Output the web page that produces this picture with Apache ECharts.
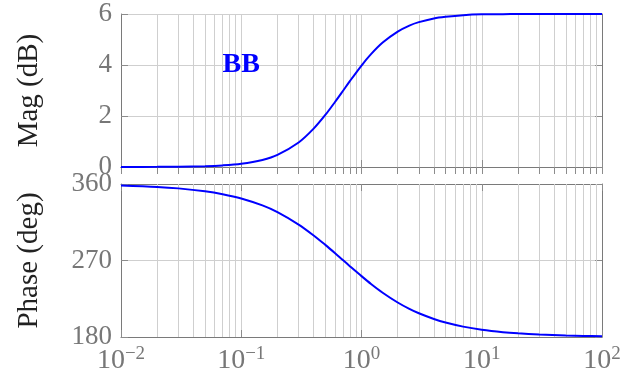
<!DOCTYPE html>
<html>
<head>
<meta charset="utf-8">
<script src="https://cdn.jsdelivr.net/npm/echarts@6/dist/echarts.min.js"></script>
<style>html,body{margin:0;padding:0;background:#fff;}#c{width:635px;height:381px;}</style>
</head>
<body>
<div id="c"></div>
<script>
// ---- data ----
const freq = [0.01,0.02,0.03,0.05,0.07,0.1,0.15,0.2,0.3,0.4,0.5,0.6,0.7,0.8,1,1.2,1.5,2,2.5,3,4,5,7,10,15,20,30,50,70,100];
const magDb = [0.001,0.005,0.012,0.032,0.063,0.127,0.278,0.474,0.961,1.504,2.04,2.54,2.98,3.366,3.98,4.425,4.88,5.31,5.546,5.68,5.825,5.89,5.955,5.988,5.995,5.997,5.999,6.0,6.0,6.0];
const phaseDeg = [358.3,356.6,354.85,351.4,348.0,343.0,334.8,326.9,312.3,299.5,288.4,278.85,270.5,263.35,251.6,242.4,232.1,220.6,213.1,207.9,201.2,197.0,192.2,188.6,185.7,184.3,182.9,181.7,181.2,180.9];
const majorTicksX = [0.01,0.1,1,10,100];
const minorTicksX = [0.02,0.03,0.04,0.05,0.06,0.07,0.08,0.09,0.2,0.3,0.4,0.5,0.6,0.7,0.8,0.9,2,3,4,5,6,7,8,9,20,30,40,50,60,70,80,90];
const magTicks = [0,2,4,6];
const phaseTicks = [180,270,360];
const annotation = {text:'BB', x:0.1, y:4};

// ---- styling ----
const FONT = '"Liberation Serif", "DejaVu Serif", serif';
const FRAME = '#7a7a7a';
const GRID = '#cfcfcf';
const TICK = '#8c8c8c';
const LABEL = '#777777';
const allTicksX = majorTicksX.concat(minorTicksX).sort((a,b)=>a-b);

function xAxes(gridIndex, showLabels){
  return [{
    type:'log', logBase:10, gridIndex, position:'bottom', min:0.01, max:100,
    axisLine:{show:true, lineStyle:{color:FRAME, width:1}},
    axisTick:{show:true, inside:true, length:7, lineStyle:{color:TICK}, customValues: allTicksX},
    axisLabel:{show:showLabels, margin:8, fontFamily:FONT, color:LABEL,
      formatter:function(v){ const e = Math.round(Math.log10(v)); return '{b|10}{s|' + (e<0?'\u2212':'') + Math.abs(e) + '}'; },
      rich:{ b:{fontSize:28, fontFamily:FONT, color:LABEL, lineHeight:30, verticalAlign:'bottom'},
             s:{fontSize:19, fontFamily:FONT, color:LABEL, lineHeight:19, verticalAlign:'top'} }},
    splitLine:{show:true, lineStyle:{color:GRID, width:1}},
    minorTick:{show:false}, minorSplitLine:{show:false}
  },{
    type:'log', logBase:10, gridIndex, position:'top', min:0.01, max:100,
    axisLine:{show:true, lineStyle:{color:FRAME, width:1}},
    axisTick:{show:true, inside:true, length:7, lineStyle:{color:TICK}, customValues: allTicksX},
    axisLabel:{show:false}, splitLine:{show:false}
  }];
}
function yAxes(gridIndex, min, max, interval, name, nameGap){
  return [{
    type:'value', gridIndex, position:'left', min, max, interval,
    name, nameLocation:'middle', nameGap, nameRotate:90,
    nameTextStyle:{fontFamily:FONT, fontSize:29, color:'#222'},
    axisLine:{show:true, lineStyle:{color:FRAME, width:1}},
    axisTick:{show:true, inside:true, length:7, lineStyle:{color:TICK}},
    axisLabel:{show:true, margin:9, fontFamily:FONT, fontSize:27, color:LABEL},
    splitLine:{show:true, lineStyle:{color:GRID, width:1}}
  },{
    type:'value', gridIndex, position:'right', min, max, interval,
    axisLine:{show:true, lineStyle:{color:FRAME, width:1}},
    axisTick:{show:true, inside:true, length:7, lineStyle:{color:TICK}},
    axisLabel:{show:false}, splitLine:{show:false}
  }];
}

const minorGrid = {
  silent:true, symbol:'none', z:1, animation:false,
  label:{show:false}, emphasis:{disabled:true},
  lineStyle:{color:GRID, type:'solid', width:1},
  data: minorTicksX.map(v=>({xAxis:v}))
};

const option = {
  animation:false,
  backgroundColor:'#fff',
  grid:[
    {left:121, top:14, width:481, height:153},
    {left:121, top:184, width:481, height:153}
  ],
  xAxis: xAxes(0,false).concat(xAxes(1,true)),
  yAxis: yAxes(0,0,6,2,'Mag (dB)',77).concat(yAxes(1,180,360,90,'Phase (deg)',77)),
  series:[
    { type:'line', xAxisIndex:0, yAxisIndex:0, data: freq.map((f,i)=>[f,magDb[i]]),
      showSymbol:false, smooth:0.3, z:3, lineStyle:{color:'#0000ff', width:2},
      markLine: minorGrid,
      markPoint:{ symbol:'circle', symbolSize:0, silent:true,
        label:{show:true, position:'inside', formatter:annotation.text, fontFamily:FONT, fontWeight:'bold', fontSize:28, color:'#0000ff'},
        data:[{coord:[annotation.x, annotation.y]}] } },
    { type:'line', xAxisIndex:2, yAxisIndex:2, data: freq.map((f,i)=>[f,phaseDeg[i]]),
      showSymbol:false, smooth:0.3, z:3, lineStyle:{color:'#0000ff', width:2},
      markLine: minorGrid }
  ]
};
const chart = echarts.init(document.getElementById('c'), null, {renderer:'canvas'});
chart.setOption(option);
</script>
</body>
</html>
